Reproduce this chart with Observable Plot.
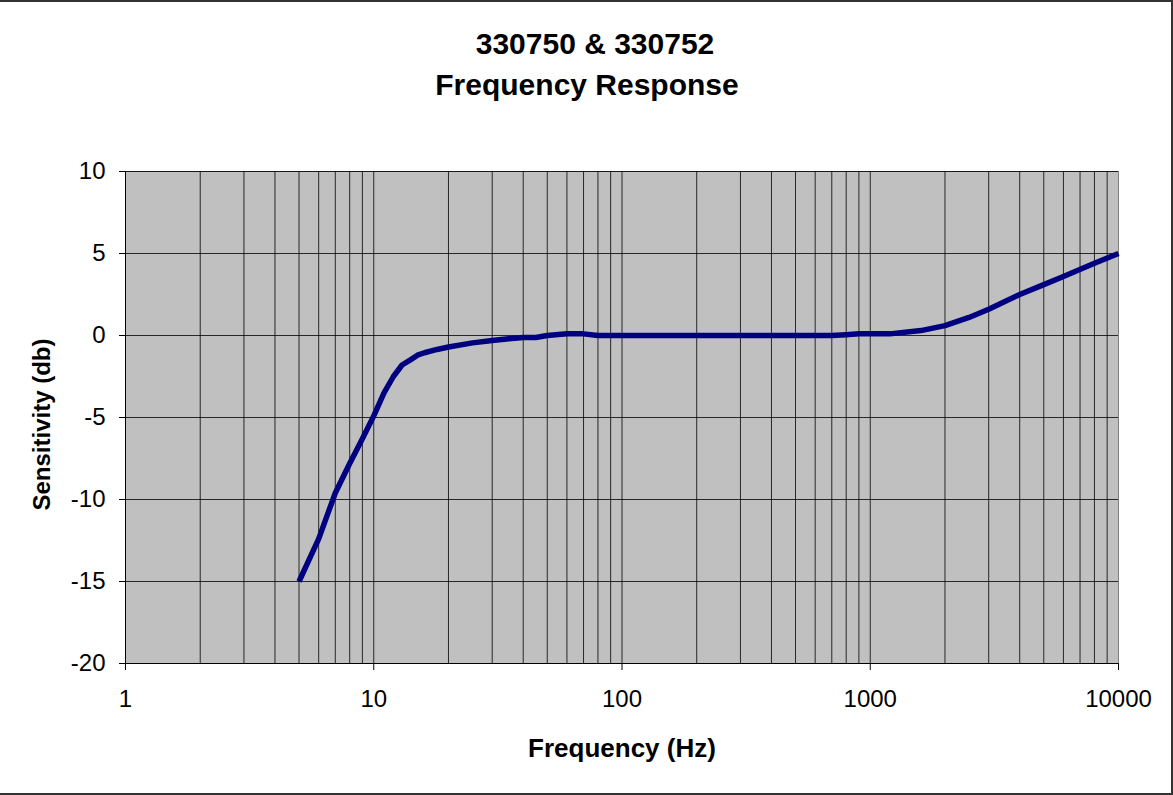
<!DOCTYPE html>
<html>
<head>
<meta charset="utf-8">
<script src="https://cdn.jsdelivr.net/npm/d3@7"></script>
<script src="https://cdn.jsdelivr.net/npm/@observablehq/plot@0.6"></script>
<style>
  html, body { margin: 0; padding: 0; background: #fff; }
  #wrap { position: relative; width: 1173px; height: 795px; }
  #border { position: absolute; left: 0; top: 0; width: 1173px; height: 795px; box-sizing: border-box;
            border-top: 2px solid #333; border-right: 2px solid #333; border-bottom: 2px solid #333; pointer-events: none; }
</style>
</head>
<body>
<div id="wrap"><div id="border"></div></div>
<script>
const titleLines = ["330750 & 330752", "Frequency Response"];
const xLabel = "Frequency (Hz)";
const yLabel = "Sensitivity (db)";

const freq = [5, 6, 7, 8, 9, 10, 11, 12, 13, 14, 15, 16, 18, 20, 25, 30, 35, 40, 45, 50, 60, 70, 80, 100, 200, 300, 500, 700, 800, 900, 1000, 1200, 1600, 2000, 2500, 3000, 4000, 5000, 6000, 8000, 10000];
const db = [-15, -12.4, -9.6, -7.8, -6.3, -4.9, -3.5, -2.5, -1.8, -1.5, -1.2, -1.05, -0.85, -0.7, -0.45, -0.3, -0.2, -0.12, -0.12, 0, 0.1, 0.1, 0, 0, 0, 0, 0, 0, 0.05, 0.1, 0.1, 0.1, 0.3, 0.6, 1.1, 1.6, 2.5, 3.1, 3.6, 4.4, 5];

const xTicks = [1, 10, 100, 1000, 10000];
const yTicks = [-20, -15, -10, -5, 0, 5, 10];
const gridFreqs = [2,3,4,5,6,7,8,9,10,20,30,40,50,60,70,80,90,100,200,300,400,500,600,700,800,900,1000,2000,3000,4000,5000,6000,7000,8000,9000];

const data = freq.map((f, i) => ({f, db: db[i]}));
const font = "'Liberation Sans', Arial, sans-serif";

const chart = Plot.plot({
  width: 1173,
  height: 795,
  marginTop: 171,
  marginBottom: 132,
  marginLeft: 125,
  marginRight: 55,
  style: {fontFamily: font, fontSize: "24px", background: "transparent", color: "#000"},
  x: {type: "log", domain: [1, 10000]},
  y: {domain: [-20, 10]},
  marks: [
    Plot.frame({fill: "#c0c0c0", stroke: "#808080"}),
    Plot.ruleX(gridFreqs, {stroke: "#000", strokeOpacity: 0.8, strokeWidth: 1}),
    Plot.ruleY(yTicks, {stroke: "#000", strokeOpacity: 0.8, strokeWidth: 1}),
    Plot.ruleX([1], {stroke: "#000", strokeWidth: 1}),
    Plot.ruleY([-20], {stroke: "#000", strokeWidth: 1}),
    Plot.axisX(xTicks, {tickSize: 7, tickPadding: 19, tickFormat: d => String(d), label: null, fontSize: 24, stroke: "#000"}),
    Plot.axisY(yTicks, {tickSize: 6, tickPadding: 14, tickFormat: d => String(d), label: null, fontSize: 24, stroke: "#000"}),
    Plot.line(data, {x: "f", y: "db", stroke: "#000080", strokeWidth: 5.5, strokeLinejoin: "round", strokeLinecap: "butt"}),
    Plot.text([xLabel], {text: d => d, frameAnchor: "bottom", dy: 85, textAnchor: "middle", lineAnchor: "middle", fontSize: 26, fontWeight: "bold"}),
    Plot.text([yLabel], {text: d => d, frameAnchor: "left", dx: -83, dy: 7, textAnchor: "middle", rotate: -90, lineAnchor: "middle", fontSize: 24, fontWeight: "bold"}),
    Plot.text([titleLines[0]], {text: d => d, frameAnchor: "top", dx: -27, dy: -127, lineAnchor: "middle", fontSize: 30, fontWeight: "bold"}),
    Plot.text([titleLines[1]], {text: d => d, frameAnchor: "top", dx: -35, dy: -86, lineAnchor: "middle", fontSize: 30, fontWeight: "bold"})
  ]
});
document.getElementById("wrap").prepend(chart);
</script>
</body>
</html>
